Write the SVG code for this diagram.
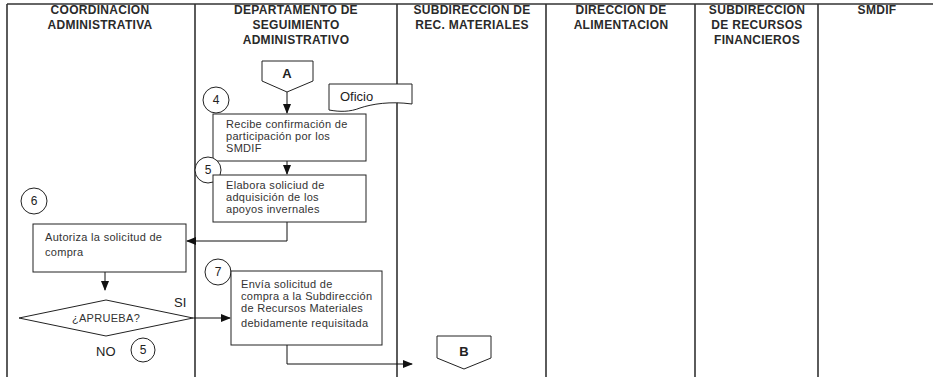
<svg xmlns="http://www.w3.org/2000/svg" width="933" height="377" viewBox="0 0 933 377">
<defs>
<marker id="arr" markerWidth="10" markerHeight="8" refX="9" refY="4" orient="auto" markerUnits="userSpaceOnUse">
<path d="M0,0 L10,4 L0,8 Z" fill="#111"/>
</marker>
<style>
.lane{stroke:#333;stroke-width:1.6;fill:none}
.hd{font-family:"Liberation Sans",Arial,sans-serif;font-weight:bold;font-size:12px;letter-spacing:0.3px;fill:#2a2a2a;text-anchor:middle}
.box{fill:#fff;stroke:#222;stroke-width:1}
.tx{font-family:"Liberation Sans",Arial,sans-serif;font-size:11px;letter-spacing:0.3px;fill:#333}
.num{font-family:"Liberation Sans",Arial,sans-serif;font-size:12px;fill:#222;text-anchor:middle}
.ln{stroke:#111;stroke-width:1;fill:none}
.big{font-family:"Liberation Sans",Arial,sans-serif;font-size:13px;fill:#222}
</style>
</defs>
<g id="lanes">
<line class="lane" x1="7" y1="4" x2="933" y2="4"/>
<line class="lane" x1="7" y1="4" x2="7" y2="377"/>
<line class="lane" x1="195" y1="4" x2="195" y2="377"/>
<line class="lane" x1="397" y1="4" x2="397" y2="377"/>
<line class="lane" x1="546" y1="4" x2="546" y2="377"/>
<line class="lane" x1="695" y1="4" x2="695" y2="377"/>
<line class="lane" x1="818" y1="4" x2="818" y2="377"/>
</g>
<g id="headers">
<text class="hd" x="100" y="14">COORDINACION</text>
<text class="hd" x="100" y="29">ADMINISTRATIVA</text>
<text class="hd" x="296" y="14">DEPARTAMENTO DE</text>
<text class="hd" x="296" y="29">SEGUIMIENTO</text>
<text class="hd" x="296" y="44">ADMINISTRATIVO</text>
<text class="hd" x="472" y="14">SUBDIRECCION DE</text>
<text class="hd" x="472" y="29">REC. MATERIALES</text>
<text class="hd" x="621" y="14">DIRECCION DE</text>
<text class="hd" x="621" y="29">ALIMENTACION</text>
<text class="hd" x="757" y="14">SUBDIRECCION</text>
<text class="hd" x="757" y="29">DE RECURSOS</text>
<text class="hd" x="757" y="44">FINANCIEROS</text>
<text class="hd" x="877" y="14">SMDIF</text>
</g>
<g id="connectors">
<line class="ln" x1="287" y1="92" x2="287" y2="113" marker-end="url(#arr)"/>
<line class="ln" x1="287" y1="161" x2="287" y2="174" marker-end="url(#arr)"/>
<polyline class="ln" points="287,222 287,241 187,241" marker-end="url(#arr)"/>
<line class="ln" x1="105" y1="272" x2="105" y2="290" marker-end="url(#arr)"/>
<line class="ln" x1="193" y1="318" x2="230" y2="318" marker-end="url(#arr)"/>
<polyline class="ln" points="287,345 287,364 412,364" marker-end="url(#arr)"/>
</g>
<g id="connA">
<path class="box" d="M262,61 H313 V81 L287,92 L262,81 Z"/>
<text class="big" x="287" y="78" text-anchor="middle" font-weight="bold" font-size="14">A</text>
</g>
<g id="c4">
<circle class="box" cx="216" cy="100" r="13"/>
<text class="num" x="216" y="104">4</text>
</g>
<g id="oficio">
<path class="box" d="M329,84 H412 V104 C390,101 372,104 360,108 C350,112 340,112 329,110 Z"/>
<text class="big" x="340" y="101" font-size="14.5">Oficio</text>
</g>
<g id="n4">
<rect class="box" x="213" y="114" width="153" height="47"/>
<text class="tx" x="226" y="128">Recibe confirmación de</text>
<text class="tx" x="226" y="140">participación por los</text>
<text class="tx" x="226" y="152">SMDIF</text>
</g>
<g id="c5">
<circle class="box" cx="208" cy="170" r="13"/>
<text class="num" x="208" y="174">5</text>
</g>
<g id="n5">
<rect class="box" x="213" y="175" width="153" height="47"/>
<text class="tx" x="226" y="189">Elabora soliciud de</text>
<text class="tx" x="226" y="201">adquisición de los</text>
<text class="tx" x="226" y="213">apoyos invernales</text>
</g>
<g id="c6">
<circle class="box" cx="34" cy="201" r="13"/>
<text class="num" x="34" y="205">6</text>
</g>
<g id="n6">
<rect class="box" x="33" y="224" width="153" height="48"/>
<text class="tx" x="45" y="241">Autoriza la solicitud de</text>
<text class="tx" x="45" y="256">compra</text>
</g>
<g id="dec">
<path class="box" d="M19,318 L106,300 L193,318 L106,336 Z"/>
<text class="tx" x="106" y="322" text-anchor="middle" font-size="12">¿APRUEBA?</text>
<text class="big" x="174" y="307" font-size="14">SI</text>
<text class="big" x="96" y="356" font-size="14">NO</text>
<circle class="box" cx="143" cy="350" r="12"/>
<text class="num" x="143" y="354">5</text>
</g>
<g id="c7">
<circle class="box" cx="218" cy="272" r="13"/>
<text class="num" x="218" y="276">7</text>
</g>
<g id="n7">
<rect class="box" x="231" y="271" width="151" height="74"/>
<text class="tx" x="241" y="288">Envía solicitud de</text>
<text class="tx" x="241" y="300">compra a la Subdirección</text>
<text class="tx" x="241" y="312">de Recursos Materiales</text>
<text class="tx" x="241" y="327">debidamente requisitada</text>
</g>
<g id="connB">
<path class="box" d="M437,336 H491 V358 L464,369 L437,358 Z"/>
<text class="big" x="464" y="356" text-anchor="middle" font-weight="bold" font-size="14">B</text>
</g>
</svg>
